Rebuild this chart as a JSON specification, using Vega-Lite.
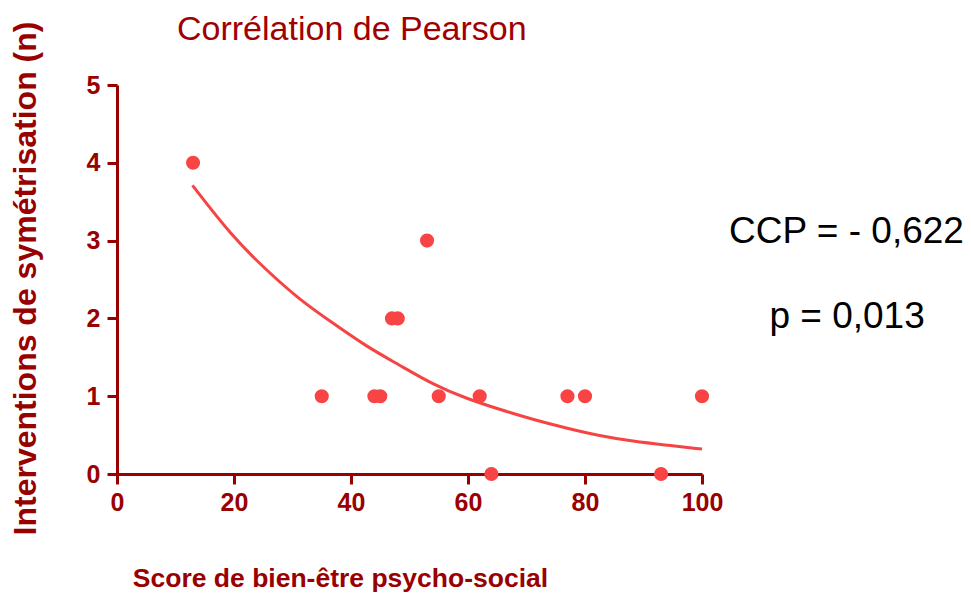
{
  "$schema": "https://vega.github.io/schema/vega-lite/v6.json",
  "width": 585,
  "height": 389,
  "autosize": "none",
  "padding": {"left": 117, "top": 85, "right": 269, "bottom": 127},
  "background": "white",
  "title": {
    "text": "Corrélation de Pearson",
    "anchor": "start",
    "frame": "group",
    "dx": 60,
    "offset": -57,
    "baseline": "alphabetic",
    "font": "Liberation Sans",
    "fontSize": 34,
    "fontWeight": "normal",
    "color": "#A00000"
  },
  "config": {
    "view": {"stroke": null},
    "axis": {
      "grid": false,
      "domainColor": "#990000",
      "domainWidth": 3,
      "tickColor": "#990000",
      "tickWidth": 3,
      "tickSize": 10,
      "labelFont": "Liberation Sans",
      "labelFontWeight": "bold",
      "labelFontSize": 25,
      "labelColor": "#990000",
      "labelOverlap": false,
      "labelFlush": false,
      "titleFont": "Liberation Sans",
      "titleFontWeight": "bold",
      "titleColor": "#990000"
    }
  },
  "encoding": {
    "x": {
      "field": "x",
      "type": "quantitative",
      "scale": {"domain": [0, 100], "nice": false},
      "axis": {
        "values": [0, 20, 40, 60, 80, 100],
        "title": "Score de bien-être psycho-social",
        "titleFontSize": 26.5,
        "titleX": 223,
        "titleY": 104,
        "titleAlign": "center",
        "titleBaseline": "middle",
        "labelPadding": 6
      }
    },
    "y": {
      "field": "y",
      "type": "quantitative",
      "scale": {"domain": [0, 5], "nice": false},
      "axis": {
        "values": [0, 1, 2, 3, 4, 5],
        "title": "Interventions de symétrisation  (n)",
        "titleFontSize": 32,
        "titleAngle": -90,
        "titleX": -92,
        "titleY": 193,
        "titleAlign": "center",
        "titleBaseline": "middle",
        "labelPadding": 7
      }
    }
  },
  "layer": [
    {
      "data": {
        "values": [
          {"x": 12.9, "y": 3.71}, {"x": 19.7, "y": 3.05}, {"x": 25.4, "y": 2.63},
          {"x": 31.2, "y": 2.24}, {"x": 36.9, "y": 1.94}, {"x": 42.6, "y": 1.64},
          {"x": 48.3, "y": 1.40}, {"x": 54.0, "y": 1.15}, {"x": 59.7, "y": 0.97},
          {"x": 65.4, "y": 0.83}, {"x": 71.1, "y": 0.70}, {"x": 76.8, "y": 0.59},
          {"x": 82.5, "y": 0.49}, {"x": 88.2, "y": 0.42}, {"x": 94.0, "y": 0.37},
          {"x": 100, "y": 0.32}
        ]
      },
      "mark": {"type": "line", "color": "#F64444", "strokeWidth": 3, "interpolate": "basis", "clip": false}
    },
    {
      "data": {
        "values": [
          {"x": 13, "y": 4}, {"x": 35, "y": 1}, {"x": 44, "y": 1}, {"x": 45, "y": 1},
          {"x": 47, "y": 2}, {"x": 48, "y": 2}, {"x": 53, "y": 3}, {"x": 55, "y": 1},
          {"x": 62, "y": 1}, {"x": 64, "y": 0}, {"x": 77, "y": 1}, {"x": 80, "y": 1},
          {"x": 93, "y": 0}, {"x": 100, "y": 1}
        ]
      },
      "mark": {"type": "circle", "size": 200, "opacity": 1, "color": "#F84444", "clip": false}
    },
    {
      "data": {
        "values": [
          {"x": 124.7, "y": 3.11, "label": "CCP = - 0,622"},
          {"x": 124.8, "y": 2.02, "label": "p = 0,013"}
        ]
      },
      "mark": {"type": "text", "font": "Liberation Sans", "fontSize": 37, "color": "#000000", "align": "center", "baseline": "middle", "clip": false},
      "encoding": {"text": {"field": "label"}}
    }
  ]
}
